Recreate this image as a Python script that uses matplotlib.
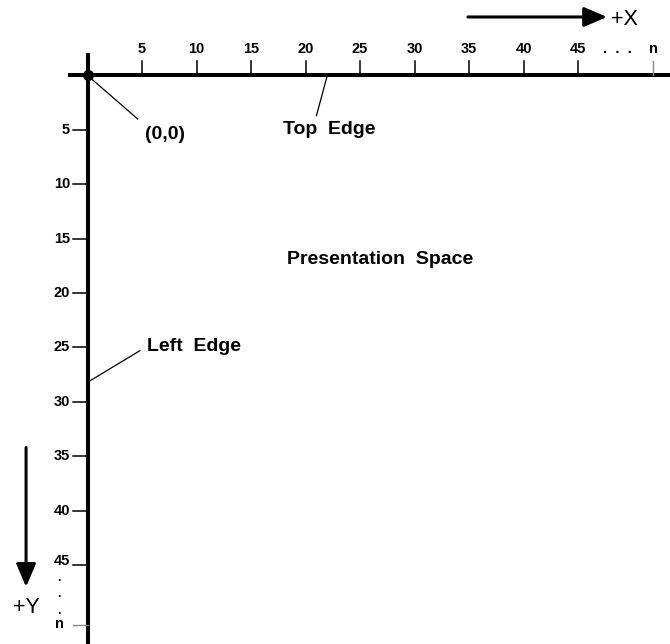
#!/usr/bin/env python3
import matplotlib.pyplot as plt

# tick values along both edges (presentation space units)
x_ticks = [5, 10, 15, 20, 25, 30, 35, 40, 45]
y_ticks = [5, 10, 15, 20, 25, 30, 35, 40, 45]
x_n = 51.9
y_n = 50.5
tick_labels = [str(v) for v in x_ticks]

# leader lines: (start, end) in data units
leaders = {
    "(0,0)": ((0.0, 0.0), (4.6, 4.0)),
    "Top  Edge": ((22.0, 0.0), (21.0, 3.7)),
    "Left  Edge": ((0.0, 28.2), (4.8, 25.3)),
}
label_pos = {
    "(0,0)": (5.3, 5.8),
    "Top  Edge": (17.9, 5.4),
    "Left  Edge": (5.5, 25.3),
    "Presentation  Space": (18.3, 17.3),
}


def main():
    plt.rcParams["font.family"] = ["Liberation Sans", "DejaVu Sans"]
    fig = plt.figure(figsize=(6.7, 6.44), dpi=100)
    ax = fig.add_axes([0, 0, 1, 1])
    ax.set_xlim(-8.03, 53.44)
    ax.set_ylim(52.25, -6.93)
    ax.axis("off")

    # edges
    ax.plot([-1.8, 53.44], [0, 0], color="black", lw=2.9, solid_capstyle="butt")
    ax.plot([0, 0], [-2.06, 52.25], color="black", lw=2.9, solid_capstyle="butt")
    ax.plot([0], [0], "o", color="black", markersize=7)

    # x ticks
    for v, lab in zip(x_ticks, tick_labels):
        ax.plot([v, v], [0, -1.35], color="black", lw=1.1)
        ax.text(v, -2.1, lab, ha="center", va="baseline",
                fontsize=10.5, fontweight="bold")
    ax.plot([x_n, x_n], [0, -1.35], color="#888888", lw=1.0)
    ax.text(x_n, -2.1, "n", ha="center", va="baseline",
            fontsize=10.5, fontweight="bold")
    ax.text(48.6, -2.1, ".  .  .", ha="center", va="baseline",
            fontsize=10.5, fontweight="bold")

    # y ticks
    for v in y_ticks:
        ax.plot([0, -1.3], [v, v], color="black", lw=1.1)
        ty = v - 0.4 if v == 45 else v
        ax.text(-1.6, ty, str(v), ha="right", va="center",
                fontsize=10.5, fontweight="bold")
    ax.plot([0, -1.3], [y_n, y_n], color="#888888", lw=1.0)
    ax.text(-2.55, 50.75, "n", ha="center", va="baseline",
            fontsize=10.5, fontweight="bold")
    for yy in [46.45, 47.9, 49.45]:
        ax.text(-2.6, yy, ".", ha="center", va="baseline",
                fontsize=9, fontweight="bold")

    # leaders and labels
    for name, (a, b) in leaders.items():
        ax.plot([a[0], b[0]], [a[1], b[1]], color="black", lw=0.9)
    for name, (x, y) in label_pos.items():
        ax.text(x, y, name, ha="left", va="baseline", fontsize=14,
                fontweight="bold")

    # direction arrows
    arrow = dict(arrowstyle="-|>,head_length=0.7,head_width=0.3",
                 color="black", lw=2.2, shrinkA=0, shrinkB=0,
                 mutation_scale=20)
    ax.annotate("", xy=(47.66, -5.37), xytext=(34.9, -5.37), arrowprops=arrow)
    ax.text(48.0, -5.18, "+X", ha="left", va="center", fontsize=15.5)
    ax.annotate("", xy=(-5.64, 47.0), xytext=(-5.64, 34.2), arrowprops=arrow)
    ax.text(-5.64, 48.9, "+Y", ha="center", va="center", fontsize=15.5)

    fig.savefig("out.png", dpi=100)


if __name__ == "__main__":
    main()
